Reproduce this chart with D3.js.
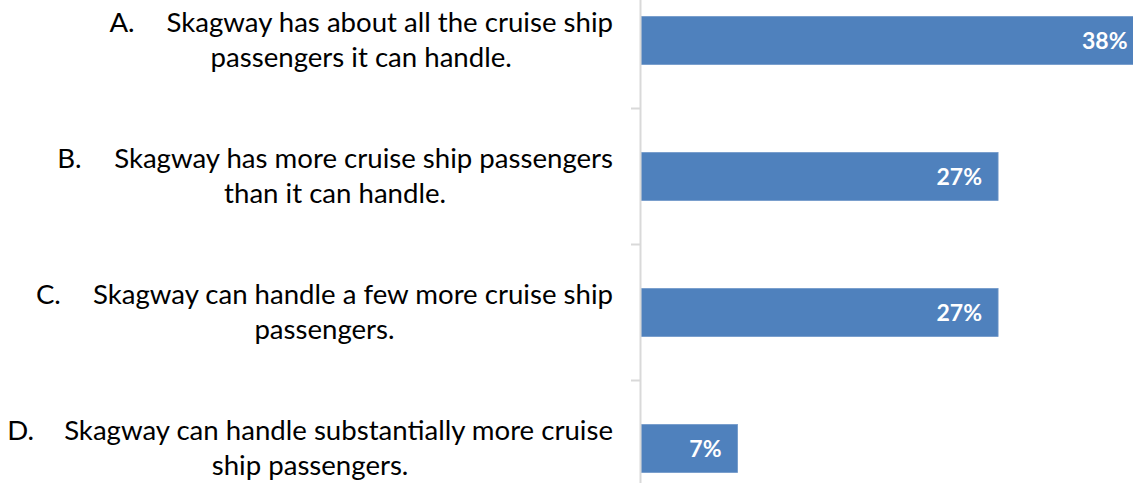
<!DOCTYPE html>
<html>
<head>
<meta charset="utf-8">
<script src="https://cdn.jsdelivr.net/npm/d3@7"></script>
<style>
  html, body { margin: 0; padding: 0; background: #ffffff; overflow: hidden; }
  svg { display: block; }
</style>
</head>
<body>
<svg id="chart" width="1133" height="483"></svg>
<script>
// ---- data ----
const categories = ["A", "B", "C", "D"];
const letters = ["A.", "B.", "C.", "D."];
const firstLines = [
  "Skagway has about all the cruise ship",
  "Skagway has more cruise ship passengers",
  "Skagway can handle a few more cruise ship",
  "Skagway can handle substantially more cruise"
];
const secondLines = [
  "passengers it can handle.",
  "than it can handle.",
  "passengers.",
  "ship passengers."
];
const values = [38, 27, 27, 7.3];

// ---- layout ----
const svg = d3.select("#chart");
const W = 1133, H = 483;
const axisX = 641;
const labelRight = 613;
const fontFamily = "Lato, 'Open Sans', sans-serif";

const x = d3.scaleLinear().domain([0, 40]).range([axisX, axisX + 529]);
const y = d3.scaleBand().domain(categories).range([-27.5, 516.5])
  .paddingInner(0.647).paddingOuter(0.3235);

// bars
svg.append("g").selectAll("rect").data(categories).join("rect")
  .attr("x", x(0))
  .attr("y", d => y(d))
  .attr("width", (d, i) => x(values[i]) - x(0))
  .attr("height", y.bandwidth())
  .attr("fill", "#4f81bd")
  .attr("stroke", "#6f97c9")
  .attr("stroke-width", 0.8);

// value labels
svg.append("g").selectAll("text").data(categories).join("text")
  .attr("x", (d, i) => x(values[i]) - 16)
  .attr("y", d => y(d) + y.bandwidth() / 2)
  .attr("dy", "0.36em")
  .attr("text-anchor", "end")
  .attr("fill", "#ffffff")
  .attr("font-family", fontFamily)
  .attr("font-weight", "bold")
  .attr("font-size", 23)
  .text((d, i) => d3.format(".0f")(values[i]) + "%");

// axis line + ticks (category boundaries)
const axisG = svg.append("g");
axisG.append("line")
  .attr("x1", axisX - 0.5).attr("x2", axisX - 0.5)
  .attr("y1", 0).attr("y2", H)
  .attr("stroke", "#d9d9d9").attr("stroke-width", 2);
const boundaries = categories.slice(1).map(d => y(d) - y.step() * y.paddingInner() / 2);
axisG.selectAll("line.tick").data(boundaries).join("line")
  .attr("class", "tick")
  .attr("x1", axisX - 10).attr("x2", axisX - 1)
  .attr("y1", d => d).attr("y2", d => d)
  .attr("stroke", "#d9d9d9").attr("stroke-width", 2);

// category labels
const labG = svg.append("g")
  .attr("font-family", fontFamily)
  .attr("font-size", 27.6)
  .attr("fill", "#000000");

categories.forEach((c, i) => {
  const cy = y(c) + y.bandwidth() / 2;
  const t1 = labG.append("text")
    .attr("x", labelRight)
    .attr("y", cy - 9)
    .attr("text-anchor", "end")
    .text(firstLines[i]);
  const w = t1.node().getComputedTextLength();
  const textStart = labelRight - w;
  const letterStart = textStart - 57;
  labG.append("text")
    .attr("x", letterStart)
    .attr("y", cy - 9)
    .text(letters[i]);
  labG.append("text")
    .attr("x", (letterStart + labelRight) / 2)
    .attr("y", cy + 26)
    .attr("text-anchor", "middle")
    .text(secondLines[i]);
});
</script>
</body>
</html>
